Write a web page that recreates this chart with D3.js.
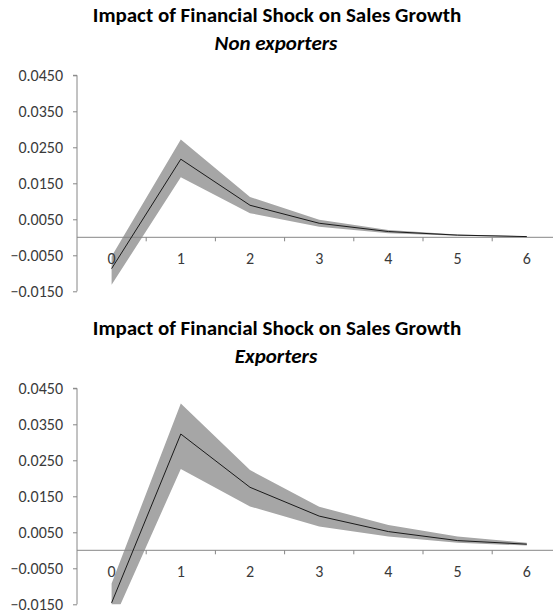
<!DOCTYPE html>
<html>
<head>
<meta charset="utf-8">
<script src="https://cdn.jsdelivr.net/npm/d3@7/dist/d3.min.js"></script>
<style>
  html, body { margin: 0; padding: 0; background: #fff; }
  svg { display: block; }
  text { font-family: Carlito, Lato, "Open Sans", sans-serif; }
</style>
</head>
<body>
<script>
// ---- data ----
const categories = [0, 1, 2, 3, 4, 5, 6];
const yTicks = [-0.015, -0.005, 0.005, 0.015, 0.025, 0.035, 0.045];
const mainTitle = "Impact of Financial Shock on Sales Growth";
const subTitles = ["Non exporters", "Exporters"];

const nonExportersMid   = [-0.0087, 0.0217, 0.0089, 0.0039, 0.0016, 0.0006, 0.0002];
const nonExportersUpper = [-0.0053, 0.0272, 0.0112, 0.0049, 0.0020, 0.0008, 0.0003];
const nonExportersLower = [-0.0132, 0.0167, 0.0067, 0.0029, 0.0011, 0.0004, 0.0001];

const exportersMid   = [-0.0146, 0.0323, 0.0175, 0.0095, 0.0052, 0.0027, 0.0017];
const exportersUpper = [-0.0092, 0.0408, 0.0223, 0.0121, 0.0070, 0.0038, 0.0021];
const exportersLower = [-0.0206, 0.0226, 0.0122, 0.0066, 0.0038, 0.0021, 0.0013];

// ---- layout ----
const W = 553, H = 615;
const svg = d3.select("body").append("svg").attr("width", W).attr("height", H);

function panel(offsetY, sub, mid, upper, lower, idx) {
  const g = svg.append("g").attr("transform", `translate(0,${offsetY})`);
  const plotLeft = 77, band = 69.2;
  const x = d3.scaleBand().domain(categories).range([plotLeft, plotLeft + band * categories.length]).padding(0);
  const cx = d => x(d) + x.bandwidth() / 2;
  const y = d3.scaleLinear().domain([-0.015, 0.045]).range([291.3, 75.3]);

  // titles
  g.append("text").attr("x", 277).attr("y", 22).attr("text-anchor", "middle")
    .attr("font-size", 21).attr("font-weight", "bold").attr("fill", "#000").text(mainTitle);
  g.append("text").attr("x", 276).attr("y", 50).attr("text-anchor", "middle")
    .attr("font-size", 21).attr("font-weight", "bold").attr("font-style", "italic").attr("fill", "#000").text(sub);

  // clip
  const clipId = "clip" + idx;
  g.append("clipPath").attr("id", clipId).append("rect")
    .attr("x", plotLeft).attr("y", y(0.045) - 1).attr("width", W - plotLeft).attr("height", y(-0.015) - y(0.045) + 1);

  const rows = categories.map((c, i) => ({ c, m: mid[i], u: upper[i], l: lower[i] }));

  // band
  g.append("path").datum(rows).attr("clip-path", `url(#${clipId})`)
    .attr("fill", "#a6a6a6")
    .attr("d", d3.area().x(d => cx(d.c)).y0(d => y(d.l)).y1(d => y(d.u)));

  // y axis
  const yAxis = d3.axisLeft(y).tickValues(yTicks).tickSize(4).tickFormat(d3.format(".4f"));
  const ya = g.append("g").attr("transform", `translate(${plotLeft},0)`).call(yAxis);
  ya.select(".domain").attr("stroke", "#868686").attr("d", `M-4,${y(0.045)}H0V${y(-0.015)}`);
  ya.selectAll(".tick line").attr("stroke", "#868686");
  ya.selectAll(".tick text").attr("font-size", 16).attr("fill", "#3a3a3a").attr("x", -14)
    .attr("font-family", "Carlito, Lato, sans-serif");

  // x axis at zero
  const xa = g.append("g").attr("transform", `translate(0,${y(0)})`);
  xa.append("line").attr("x1", plotLeft).attr("x2", W).attr("y1", 0).attr("y2", 0).attr("stroke", "#868686");
  xa.selectAll("line.tk").data(categories.slice(1)).enter().append("line").attr("class", "tk")
    .attr("x1", d => x(d)).attr("x2", d => x(d)).attr("y1", 0).attr("y2", 4).attr("stroke", "#868686");
  xa.selectAll("text").data(categories).enter().append("text")
    .attr("x", d => cx(d)).attr("y", 27).attr("text-anchor", "middle")
    .attr("font-size", 16).attr("fill", "#3a3a3a").text(d => d);

  // line
  g.append("path").datum(rows).attr("clip-path", `url(#${clipId})`)
    .attr("fill", "none").attr("stroke", "#1a1a1a").attr("stroke-width", 1)
    .attr("d", d3.line().x(d => cx(d.c)).y(d => y(d.m)));
}

panel(0, subTitles[0], nonExportersMid, nonExportersUpper, nonExportersLower, 0);
panel(313, subTitles[1], exportersMid, exportersUpper, exportersLower, 1);
</script>
</body>
</html>
